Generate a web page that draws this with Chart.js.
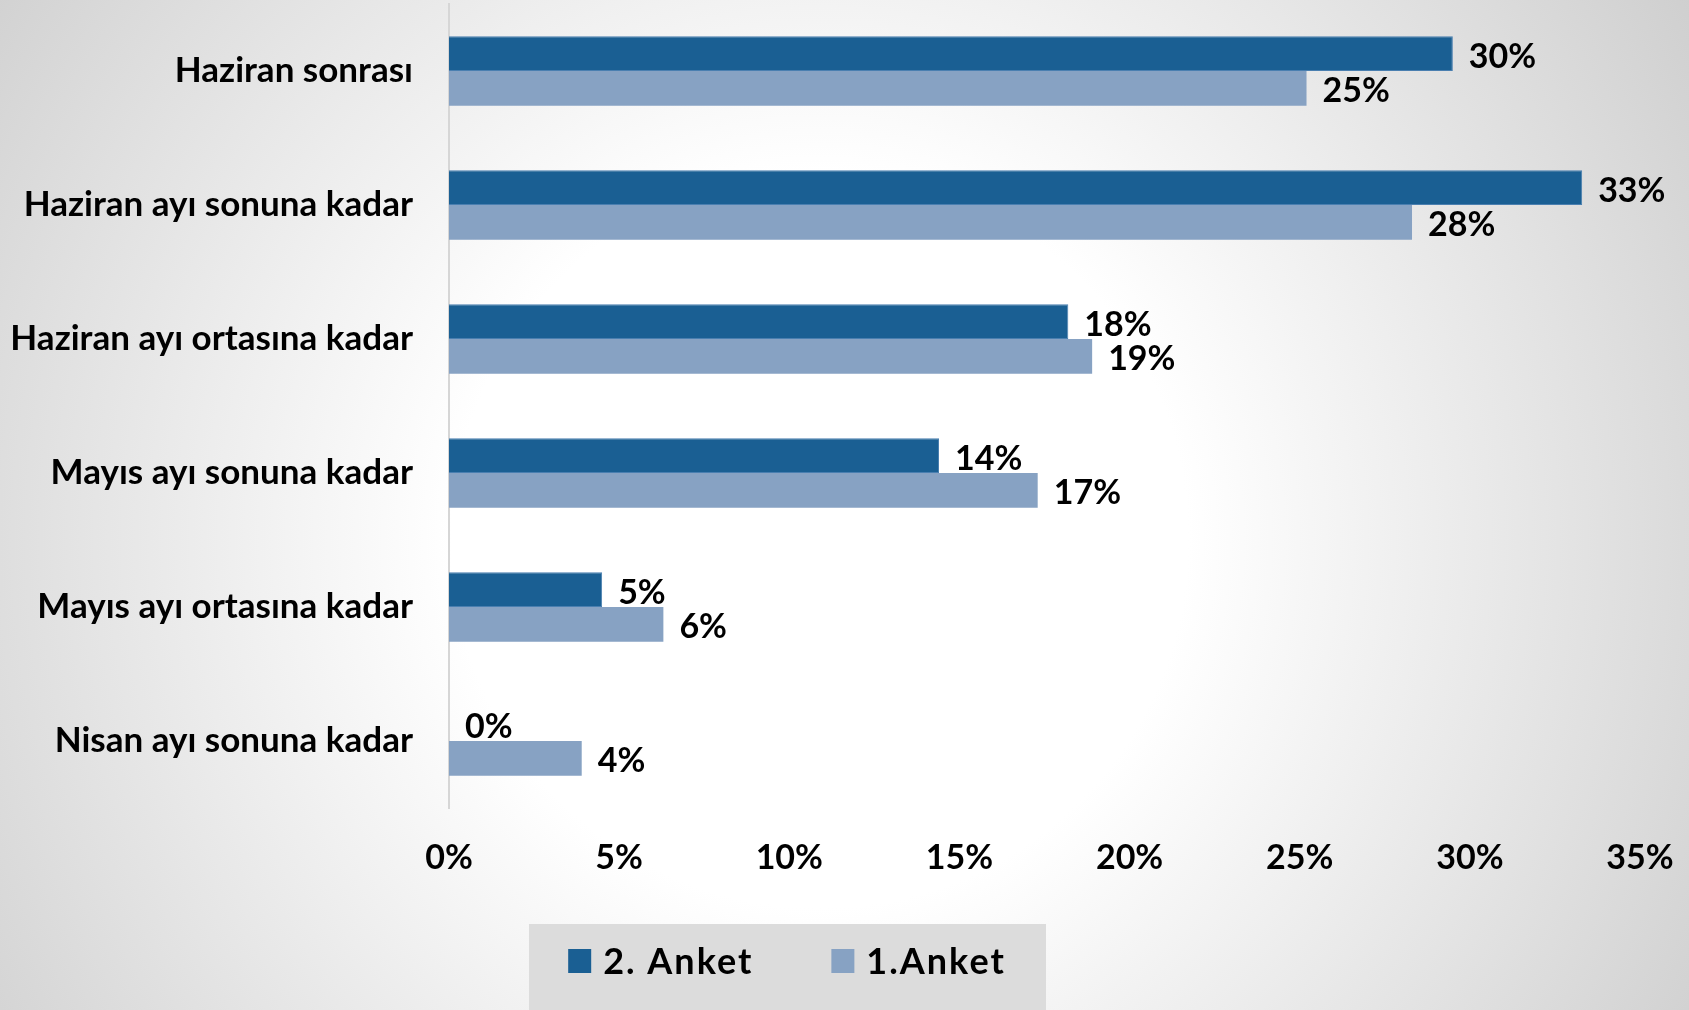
<!DOCTYPE html>
<html>
<head>
<meta charset="utf-8">
<script src="https://cdn.jsdelivr.net/npm/chart.js@4.4.1/dist/chart.umd.min.js"></script>
<style>
  html, body { margin: 0; padding: 0; }
  #wrap { width: 1689px; height: 1010px; position: relative; }
</style>
</head>
<body>
<div id="wrap"><canvas id="surveyChart"></canvas></div>
<script>
var categories = [
  'Haziran sonrası',
  'Haziran ayı sonuna kadar',
  'Haziran ayı ortasına kadar',
  'Mayıs ayı sonuna kadar',
  'Mayıs ayı ortasına kadar',
  'Nisan ayı sonuna kadar'
];
var anket2 = [29.5, 33.3, 18.2, 14.4, 4.5, 0];
var anket1 = [25.2, 28.3, 18.9, 17.3, 6.3, 3.9];
var seriesLabels = ['2. Anket', '1.Anket'];
var xTicks = [0, 5, 10, 15, 20, 25, 30, 35];

var FONT = 'Lato, "Open Sans", sans-serif';

// radial grey background like the slide
var bgPlugin = {
  id: 'bg',
  beforeDraw: function(chart) {
    var c = chart.ctx;
    var g = c.createRadialGradient(820, 540, 0, 820, 540, 1150);
    g.addColorStop(0, '#ffffff');
    g.addColorStop(0.32, '#ffffff');
    g.addColorStop(1, '#c6c6c6');
    c.save();
    c.fillStyle = g;
    c.fillRect(0, 0, chart.width, chart.height);
    c.restore();
  }
};

// percent labels at the end of each bar
var valueLabels = {
  id: 'valueLabels',
  afterDatasetsDraw: function(chart) {
    var c = chart.ctx;
    c.save();
    c.font = 'bold 34px ' + FONT;
    c.fillStyle = '#000';
    c.textAlign = 'left';
    c.textBaseline = 'middle';
    chart.data.datasets.forEach(function(ds, i) {
      chart.getDatasetMeta(i).data.forEach(function(bar, j) {
        c.fillText(Math.round(ds.data[j]) + '%', bar.x + 16, bar.y + 3);
      });
    });
    c.restore();
  }
};

// legend on its grey panel below the axis
var panelLegend = {
  id: 'panelLegend',
  afterDraw: function(chart) {
    var c = chart.ctx;
    var cx = 787, cy = 961, box = 23, gap = 12, spacing = 78;
    c.save();
    c.fillStyle = '#dcdcdc';
    c.fillRect(529, 924, 517, chart.height - 924);
    c.font = 'bold 36px ' + FONT;
    c.letterSpacing = '2px';
    var items = chart.data.datasets.map(function(ds) {
      return { text: ds.label, color: ds.backgroundColor, w: c.measureText(ds.label).width };
    });
    var total = 0;
    items.forEach(function(it, i) { total += box + gap + it.w + (i ? spacing : 0); });
    var x = cx - total / 2;
    c.textBaseline = 'middle';
    items.forEach(function(it, i) {
      if (i) x += spacing;
      c.fillStyle = it.color;
      c.fillRect(x, cy - 12, box, 24);
      x += box + gap;
      c.fillStyle = '#000';
      c.fillText(it.text, x, cy + 1);
      x += it.w;
    });
    c.restore();
  }
};

var ctx = document.getElementById('surveyChart').getContext('2d');
var chart = new Chart(ctx, {
  type: 'bar',
  data: {
    labels: categories,
    datasets: [
      {
        label: seriesLabels[0],
        data: anket2,
        backgroundColor: '#1a5f93',
        borderColor: '#4a7fb0',
        borderWidth: 1,
        categoryPercentage: 0.52,
        barPercentage: 1.0
      },
      {
        label: seriesLabels[1],
        data: anket1,
        backgroundColor: '#87a2c3',
        borderWidth: 0,
        categoryPercentage: 0.52,
        barPercentage: 1.0
      }
    ]
  },
  options: {
    indexAxis: 'y',
    responsive: true,
    maintainAspectRatio: false,
    animation: false,
    layout: { padding: { top: 4, right: 49, bottom: 122, left: 0 } },
    plugins: {
      legend: { display: false },
      tooltip: { enabled: false }
    },
    scales: {
      x: {
        min: 0,
        max: 35,
        afterBuildTicks: function(scale) {
          scale.ticks = xTicks.map(function(v) { return { value: v }; });
        },
        afterFit: function(scale) {
          scale.height = 80;
          scale.paddingLeft = 0;
          scale.paddingRight = 0;
        },
        grid: { display: false, drawTicks: false },
        border: { display: false },
        ticks: {
          padding: 30,
          color: '#000',
          font: { family: FONT, size: 34, weight: 'bold' },
          callback: function(v) { return v + '%'; }
        }
      },
      y: {
        afterFit: function(scale) {
          scale.width = 449;
          scale.paddingTop = 0;
          scale.paddingBottom = 0;
        },
        grid: { display: false, drawTicks: false },
        border: { display: true, color: '#d6d6d6', width: 2 },
        ticks: {
          padding: 36,
          color: '#000',
          font: { family: FONT, size: 35, weight: 'bold' }
        }
      }
    }
  },
  plugins: [bgPlugin, valueLabels, panelLegend]
});
</script>
</body>
</html>
